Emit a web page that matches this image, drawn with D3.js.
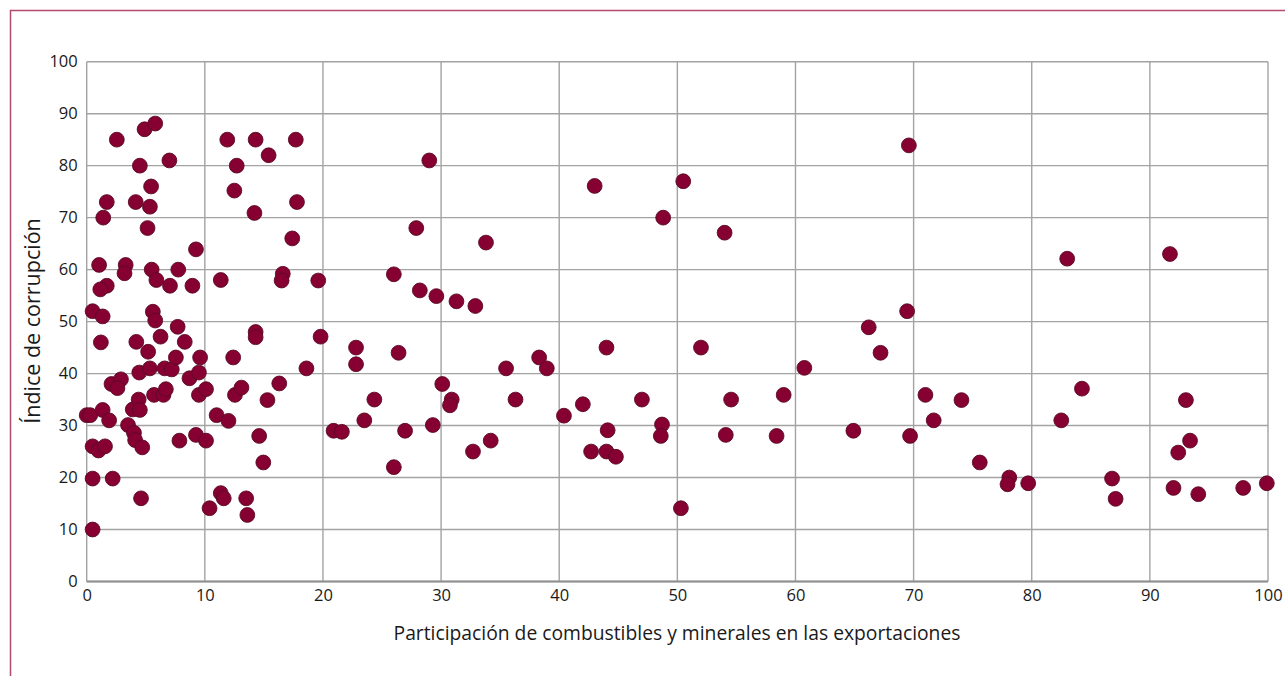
<!DOCTYPE html>
<html><head><meta charset="utf-8">
<script src="https://cdn.jsdelivr.net/npm/d3@7"></script>
<style>body{margin:0;background:#fff;} svg{display:block;}</style>
</head><body>
<script>
const xTicks = [0,10,20,30,40,50,60,70,80,90,100];
const yTicks = [0,10,20,30,40,50,60,70,80,90,100];
const xLabel = "Participación de combustibles y minerales en las exportaciones";
const yLabel = "Índice de corrupción";
// fuel & mineral share of exports (x)
const exportShare = [0.0,0.3,0.5,1.35,1.2,0.5,1.0,1.55,0.5,2.2,0.5,1.35,1.9,2.1,2.9,2.6,3.5,4.0,4.1,4.7,4.6,3.9,4.4,4.5,4.2,4.45,5.2,5.35,5.6,5.8,6.25,5.7,6.5,6.6,7.2,6.7,7.7,7.55,8.3,8.7,9.6,9.5,9.5,10.1,7.85,9.25,10.1,10.4,11.0,12.0,12.4,12.55,11.35,11.6,
2.55,4.9,5.8,4.5,7.0,5.45,1.7,4.15,5.35,1.4,5.15,9.25,1.05,3.3,3.2,5.5,7.75,5.9,7.05,8.95,1.7,1.15,11.35,11.9,12.7,12.5,14.3,17.7,15.4,17.8,14.2,17.4,16.6,16.5,19.6,
14.3,14.3,19.8,22.8,22.8,18.6,16.3,13.1,15.3,24.35,23.5,20.9,21.6,14.6,14.95,13.5,13.6,
29.0,27.9,33.8,26.0,28.2,29.6,31.3,32.9,26.4,35.5,38.3,38.95,30.1,30.9,30.75,36.3,40.4,26.95,29.3,34.2,32.7,26.0,
43.0,50.5,48.8,54.0,44.0,52.0,42.0,47.0,54.55,44.1,48.7,48.6,54.1,42.7,44.0,44.8,50.3,
69.6,69.45,66.2,67.2,60.75,59.0,71.0,71.7,58.4,64.9,69.7,
83.0,84.25,74.05,82.5,75.6,78.1,77.95,79.7,86.8,87.1,
91.7,93.05,93.4,92.4,92.0,94.1,97.9,99.9];
// corruption index (y)
const corruption = [32,32,52,51,46,26,25.2,26,19.8,19.8,10,33,31,38,38.9,37.2,30.1,28.6,27.2,25.8,16,33.1,35,33,46.1,40.2,44.2,41,51.9,50.2,47.1,35.9,35.9,41,40.8,37,49,43.1,46.1,39.1,43.1,40.2,35.9,37,27.1,28.2,27.1,14.1,32,30.9,43.1,35.9,17,16,
85,87,88.1,80,81,76,73,73,72.1,70,68,63.9,60.9,60.9,59.3,60,60,58,56.9,56.9,56.9,56.2,58,85,80,75.2,85,85,82,73,70.9,66,59.2,57.9,57.9,
48,47,47.1,45,41.8,41,38.1,37.3,34.9,35,31,29,28.8,28,22.9,16,12.8,
81,68,65.2,59.1,56,54.9,53.9,53,44,41,43.1,41,38,35,33.9,35,31.9,29,30.1,27.1,25,22,
76.1,77,70,67.1,45,45,34.1,35,35,29.1,30.2,28,28.2,25,25,24,14.1,
83.9,52,48.9,44,41.1,35.9,35.9,31,28,29,28,
62.1,37.1,34.9,31,22.9,20,18.7,18.9,19.8,15.9,
63,34.9,27.1,24.8,18,16.8,18,18.9];

const W = 1285, H = 676;
const m = {left: 86.7, right: 1268, top: 61.7, bottom: 581.5};
const svg = d3.select("body").append("svg").attr("width", W).attr("height", H);
const font = "'Open Sans', 'Noto Sans', sans-serif";

svg.append("rect").attr("x", 10.5).attr("y", 10.5).attr("width", 1300).attr("height", 700)
  .attr("fill", "none").attr("stroke", "#b34a70").attr("stroke-width", 1.5);

const x = d3.scaleLinear().domain([0,100]).range([m.left, m.right]);
const y = d3.scaleLinear().domain([0,100]).range([m.bottom, m.top]);

// grid
const grid = svg.append("g");
grid.selectAll("line.v").data(xTicks).join("line")
  .attr("x1", d => x(d)).attr("x2", d => x(d)).attr("y1", y(0)).attr("y2", y(100))
  .attr("stroke", "#a3a3a3").attr("stroke-width", 1.4);
grid.selectAll("line.h").data(yTicks).join("line")
  .attr("x1", x(0)).attr("x2", x(100)).attr("y1", d => y(d)).attr("y2", d => y(d))
  .attr("stroke", "#a3a3a3").attr("stroke-width", 1.4);
svg.append("line").attr("x1", x(0)).attr("x2", x(100)).attr("y1", y(0)).attr("y2", y(0))
  .attr("stroke", "#8f8f8f").attr("stroke-width", 1.8);

// axes
const xAxis = svg.append("g").attr("transform", `translate(0,${y(0)})`)
  .call(d3.axisBottom(x).tickValues(xTicks).tickSize(0).tickPadding(8).tickFormat(d3.format("d")));
xAxis.select(".domain").remove();
xAxis.selectAll("text").attr("font-family", font).attr("font-size", 16.5).attr("fill", "#1a1a1a");
const yAxis = svg.append("g").attr("transform", `translate(${x(0)},0)`)
  .call(d3.axisLeft(y).tickValues(yTicks).tickSize(0).tickPadding(9).tickFormat(d3.format("d")));
yAxis.select(".domain").remove();
yAxis.selectAll("text").attr("font-family", font).attr("font-size", 16.5).attr("fill", "#1a1a1a");

svg.append("text").attr("x", 677).attr("y", 640).attr("text-anchor", "middle")
  .attr("font-family", font).attr("font-size", 19.3).attr("fill", "#1a1a1a").text(xLabel);
svg.append("text").attr("transform", `translate(40,321) rotate(-90)`)
  .attr("text-anchor", "middle").attr("font-family", font).attr("font-size", 21.5).attr("fill", "#1a1a1a").text(yLabel);

const pts = exportShare.map((v, i) => ({x: v, y: corruption[i]}));
svg.append("g").selectAll("circle").data(pts).join("circle")
  .attr("cx", d => x(d.x)).attr("cy", d => y(d.y)).attr("r", 7.4)
  .attr("fill", "#860032").attr("stroke", "#5a0a24").attr("stroke-width", 0.9);
</script>
</body></html>
